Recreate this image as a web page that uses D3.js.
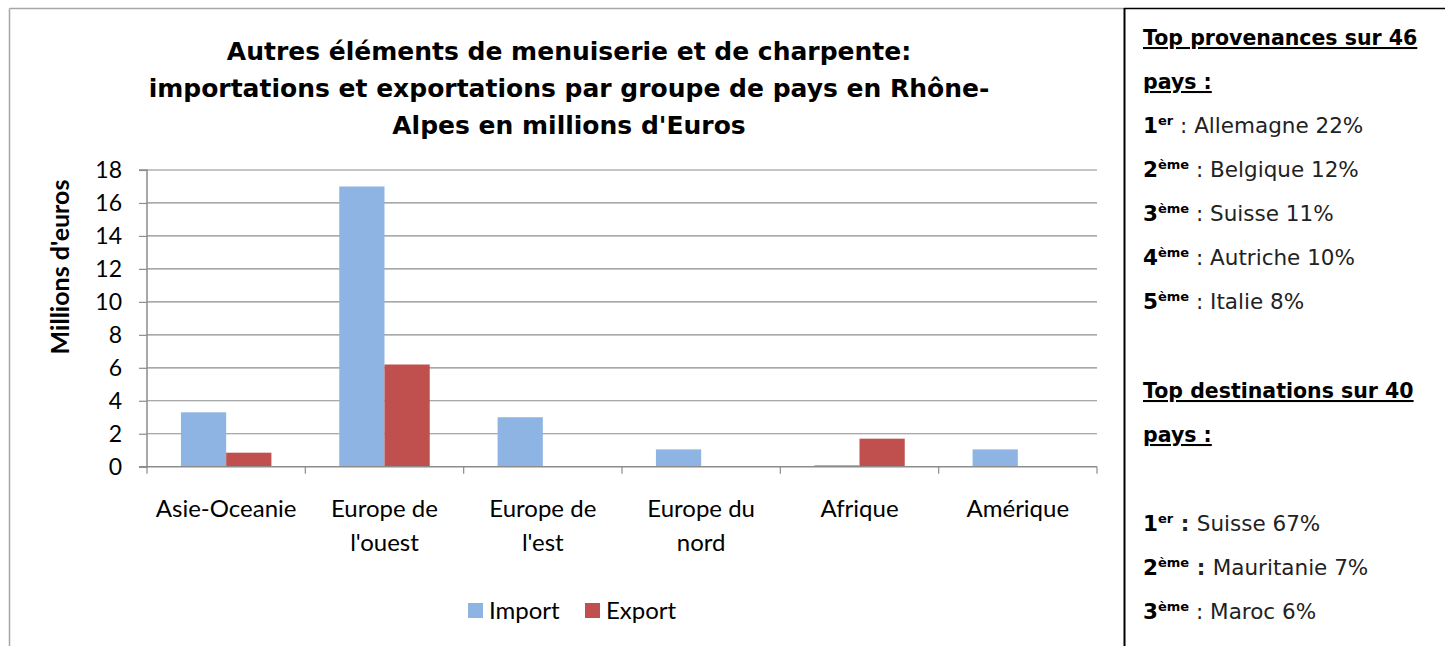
<!DOCTYPE html>
<html>
<head>
<meta charset="utf-8">
<script src="https://cdn.jsdelivr.net/npm/d3@7"></script>
<style>
  body { margin: 0; background: #fff; }
  svg { display: block; }
</style>
</head>
<body>
<div id="chart"></div>
<script>
// chart data
var categories = ["Asie-Oceanie", "Europe de l'ouest", "Europe de l'est", "Europe du nord", "Afrique", "Amérique"];
var categoryLines = [["Asie-Oceanie"], ["Europe de", "l'ouest"], ["Europe de", "l'est"], ["Europe du", "nord"], ["Afrique"], ["Amérique"]];
var seriesNames = ["Import", "Export"];
var importValues = [3.3, 17.0, 3.0, 1.05, 0.1, 1.05];
var exportValues = [0.85, 6.2, 0, 0, 1.7, 0];
var yTicks = [0, 2, 4, 6, 8, 10, 12, 14, 16, 18];
var titleLines = ["Autres éléments de menuiserie et de charpente:",
    "importations et exportations par groupe de pays en Rhône-",
    "Alpes en millions d'Euros"];
var yAxisTitle = "Millions d'euros";

// side panel text
var provTitle = ["Top provenances sur 46", "pays :"];
var provRank = ["1", "2", "3", "4", "5"];
var provSup = ["er", "ème", "ème", "ème", "ème"];
var provText = ["Allemagne 22%", "Belgique 12%", "Suisse 11%", "Autriche 10%", "Italie 8%"];
var destTitle = ["Top destinations sur 40", "pays :"];
var destRank = ["1", "2", "3"];
var destSup = ["er", "ème", "ème"];
var destText = ["Suisse 67%", "Mauritanie 7%", "Maroc 6%"];
var destBoldColon = [true, true, false];

var colors = {Import: "#8EB4E3", Export: "#C0504D"};
var labelFont = "Lato, 'Open Sans', sans-serif";
var gothicFont = "'DejaVu Sans', sans-serif";

var width = 1445, height = 646;
var svg = d3.select("#chart").append("svg")
    .attr("width", width)
    .attr("height", height);

//frames:
svg.append("line").attr("x1", 9.5).attr("y1", 8.5).attr("x2", 1124).attr("y2", 8.5)
    .attr("stroke", "#a6a6a6").attr("stroke-width", 1.5);
svg.append("line").attr("x1", 9.5).attr("y1", 8.5).attr("x2", 9.5).attr("y2", height)
    .attr("stroke", "#a6a6a6").attr("stroke-width", 1.5);
svg.append("line").attr("x1", 1124).attr("y1", 8.5).attr("x2", width).attr("y2", 8.5)
    .attr("stroke", "#000").attr("stroke-width", 1.5);
svg.append("line").attr("x1", 1124.5).attr("y1", 8).attr("x2", 1124.5).attr("y2", height)
    .attr("stroke", "#000").attr("stroke-width", 2);

//plot area
var plotLeft = 147, plotRight = 1097, plotTop = 170, plotBottom = 466.7;

var xScale = d3.scaleBand().domain(categories).range([plotLeft, plotRight]).paddingInner(0).paddingOuter(0);
var xInner = d3.scaleBand().domain(seriesNames).range([0, xScale.bandwidth()])
    .paddingInner(0).paddingOuter(0.75);
var yScale = d3.scaleLinear().domain([0, 18]).range([plotBottom, plotTop]);

//gridlines
svg.append("g").selectAll("line")
    .data(yTicks.filter(function (d) { return d > 0; }))
    .enter().append("line")
    .attr("x1", plotLeft).attr("x2", plotRight)
    .attr("y1", function (d) { return yScale(d); })
    .attr("y2", function (d) { return yScale(d); })
    .attr("stroke", "#8c8c8c").attr("stroke-width", 1.2);

//bars
var table = categories.map(function (c, i) {
    return {cat: c, Import: importValues[i], Export: exportValues[i]};
});
var groups = svg.append("g").selectAll("g")
    .data(table).enter().append("g")
    .attr("transform", function (d) { return "translate(" + xScale(d.cat) + ",0)"; });
groups.selectAll("rect")
    .data(function (d) {
        return seriesNames.map(function (s) { return {key: s, value: d[s]}; });
    })
    .enter().append("rect")
    .attr("x", function (d) { return xInner(d.key); })
    .attr("width", xInner.bandwidth())
    .attr("y", function (d) { return yScale(d.value); })
    .attr("height", function (d) { return plotBottom - yScale(d.value); })
    .attr("fill", function (d) { return colors[d.key]; });

//y axis
var yAxis = d3.axisLeft(yScale).tickValues(yTicks).tickSize(8).tickPadding(17);
var yG = svg.append("g")
    .attr("transform", "translate(" + plotLeft + ",0)")
    .call(yAxis);
yG.select(".domain").attr("stroke", "#8c8c8c").attr("stroke-width", 1.5)
    .attr("d", "M-8," + plotTop + "H0V" + plotBottom + "H-8");
yG.selectAll(".tick line").attr("stroke", "#8c8c8c").attr("stroke-width", 1.2);
yG.selectAll(".tick text").attr("font-family", labelFont).attr("font-size", "23px").attr("fill", "#000");

//x axis (ticks on category boundaries)
var boundaries = categories.map(function (c) { return xScale(c); }).concat([plotRight]);
var xG = svg.append("g");
xG.append("line").attr("x1", plotLeft - 8).attr("x2", plotRight).attr("y1", plotBottom).attr("y2", plotBottom)
    .attr("stroke", "#8c8c8c").attr("stroke-width", 1.5);
xG.selectAll(".xt").data(boundaries).enter().append("line")
    .attr("x1", function (d) { return d; }).attr("x2", function (d) { return d; })
    .attr("y1", plotBottom).attr("y2", plotBottom + 7)
    .attr("stroke", "#8c8c8c").attr("stroke-width", 1.2);

var catLabels = xG.selectAll(".xl").data(categories).enter().append("text")
    .attr("text-anchor", "middle")
    .attr("font-family", labelFont)
    .attr("font-size", "24px")
    .attr("fill", "#000");
catLabels.each(function (c, i) {
    var t = d3.select(this);
    categoryLines[i].forEach(function (line, j) {
        t.append("tspan")
            .attr("x", xScale(c) + xScale.bandwidth() / 2)
            .attr("y", 517 + j * 34)
            .text(line);
    });
});

//y title
svg.append("text")
    .attr("transform", "translate(69," + 267 + ") rotate(-90)")
    .attr("text-anchor", "middle")
    .attr("font-family", labelFont)
    .attr("font-weight", "bold")
    .attr("font-size", "25px")
    .text(yAxisTitle);

//title
svg.append("g").selectAll("text")
    .data(titleLines).enter().append("text")
    .attr("x", 569)
    .attr("y", function (d, i) { return 60 + i * 37; })
    .attr("text-anchor", "middle")
    .attr("font-family", "'DejaVu Sans', sans-serif")
    .attr("font-weight", "bold")
    .attr("font-size", "25px")
    .text(function (d) { return d; });

//legend
var legend = svg.append("g").attr("transform", "translate(468,603)");
var legendX = [0, 117];
seriesNames.forEach(function (s, i) {
    legend.append("rect").attr("x", legendX[i]).attr("y", 0).attr("width", 15).attr("height", 15)
        .attr("fill", colors[s]);
    legend.append("text").attr("x", legendX[i] + 21).attr("y", 16)
        .attr("font-family", labelFont).attr("font-size", "24px").text(s);
});

//side panel
var panel = svg.append("g");
function heading(lines, y0) {
    lines.forEach(function (l, i) {
        panel.append("text")
            .attr("x", 1143).attr("y", y0 + i * 44)
            .attr("font-family", gothicFont)
            .attr("font-weight", "bold")
            .attr("font-size", "20.5px")
            .attr("text-decoration", "underline")
            .text(l);
    });
}
function rankLines(ranks, sups, texts, boldColon, y0) {
    ranks.forEach(function (r, i) {
        var t = panel.append("text")
            .attr("x", 1143).attr("y", y0 + i * 44)
            .attr("font-family", gothicFont)
            .attr("font-size", "21.5px")
            .attr("fill", "#222");
        t.append("tspan").attr("font-weight", "bold").attr("fill", "#000").text(r);
        t.append("tspan").attr("font-weight", "bold").attr("fill", "#000")
            .attr("font-size", "13px").attr("dy", -8).text(sups[i]);
        t.append("tspan").attr("dy", 8).attr("font-weight", boldColon && boldColon[i] ? "bold" : "normal")
            .text(" : ");
        t.append("tspan").text(texts[i]);
    });
}
heading(provTitle, 45);
rankLines(provRank, provSup, provText, null, 133);
heading(destTitle, 398);
rankLines(destRank, destSup, destText, destBoldColon, 531);
</script>
</body>
</html>
